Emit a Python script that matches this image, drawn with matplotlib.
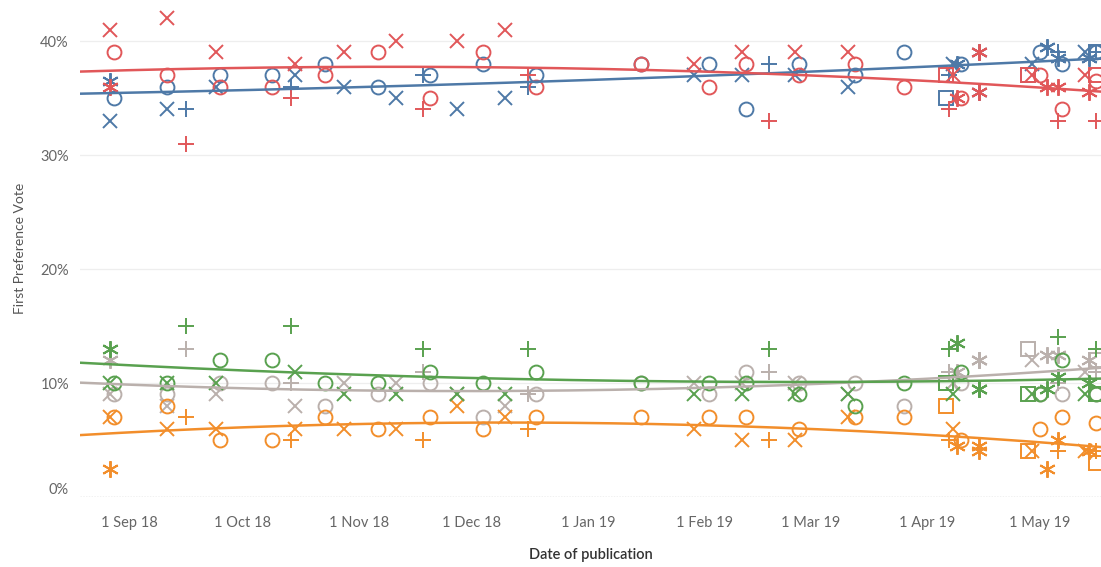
import numpy as np
import matplotlib
matplotlib.use('Agg')
import matplotlib.pyplot as plt
import matplotlib.dates as mdates

# Federal voting intention, first preference vote by poll
poll_dates = [
    '2018-08-27', '2018-08-27', '2018-08-28', '2018-09-11', '2018-09-11', '2018-09-16',
    '2018-09-24', '2018-09-25', '2018-10-09', '2018-10-14', '2018-10-15', '2018-10-23',
    '2018-10-28', '2018-11-06', '2018-11-11', '2018-11-18', '2018-11-20', '2018-11-27',
    '2018-12-04', '2018-12-10', '2018-12-16', '2018-12-18', '2019-01-15', '2019-01-29',
    '2019-02-02', '2019-02-11', '2019-02-12', '2019-02-18', '2019-02-25', '2019-02-26',
    '2019-03-11', '2019-03-13', '2019-03-26', '2019-04-06', '2019-04-07', '2019-04-08',
    '2019-04-09', '2019-04-10', '2019-04-15', '2019-04-15', '2019-04-28', '2019-04-29',
    '2019-05-01', '2019-05-03', '2019-05-06', '2019-05-06', '2019-05-07', '2019-05-13',
    '2019-05-14', '2019-05-16', '2019-05-16', '2019-05-16',
]
pollster = [
    'Newspoll', 'Roy Morgan', 'Essential', 'Newspoll', 'Essential', 'Ipsos',
    'Newspoll', 'Essential', 'Essential', 'Ipsos', 'Newspoll', 'Essential',
    'Newspoll', 'Essential', 'Newspoll', 'Ipsos', 'Essential', 'Newspoll',
    'Essential', 'Newspoll', 'Ipsos', 'Essential', 'Essential', 'Newspoll',
    'Essential', 'Newspoll', 'Essential', 'Ipsos', 'Newspoll', 'Essential',
    'Newspoll', 'Essential', 'Essential', 'YouGov Galaxy', 'Ipsos', 'Newspoll',
    'Roy Morgan', 'Essential', 'Roy Morgan', 'Roy Morgan', 'YouGov Galaxy', 'Newspoll',
    'Essential', 'Roy Morgan', 'Ipsos', 'Roy Morgan', 'Essential', 'Newspoll',
    'Roy Morgan', 'Essential', 'Ipsos', 'YouGov Galaxy',
]
coalition = [33, 36.5, 35, 34, 36, 34, 36, 37, 37, 36, 37, 38, 36, 36, 35, 37, 37, 34,
             38, 35, 36, 37, 38, 37, 38, 37, 34, 38, 37, 38, 36, 37, 39, 35, 37, 38,
             38, 38, 35.5, 39, 37, 38, 39, 39.5, 39, 38.5, 38, 39, 38.5, 39, 39, 39]
labor = [41, 36, 39, 42, 37, 31, 39, 36, 36, 35, 38, 37, 39, 39, 40, 34, 35, 40,
         39, 41, 37, 36, 38, 38, 36, 39, 38, 33, 39, 37, 39, 38, 36, 37, 34, 37,
         35, 35, 39, 35.5, 37, 37, 37, 36, 33, 36, 34, 37, 35.5, 36.5, 33, 37]
greens = [10, 13, 10, 10, 10, 15, 10, 12, 12, 15, 11, 10, 9, 10, 9, 13, 11, 9,
          10, 9, 13, 11, 10, 9, 10, 9, 10, 13, 9, 9, 9, 8, 10, 10, 13, 9,
          13.5, 11, 9.5, 9.5, 9, 9, 9, 9.5, 14, 10.5, 12, 9, 10, 9, 13, 9]
one_nation = [7, 2.5, 7, 6, 8, 7, 6, 5, 5, 5, 6, 7, 6, 6, 6, 5, 7, 8,
              6, 7, 6, 7, 7, 6, 7, 5, 7, 5, 5, 6, 7, 7, 7, 8, 5, 6,
              4.5, 5, 4.5, 4, 4, 4, 6, 2.5, 4, 5, 7, 4, 4, 6.5, 4, 3]
others = [9, 12, 9, 8, 9, 13, 9, 10, 10, 10, 8, 8, 10, 9, 10, 11, 10, 9,
          7, 8, 9, 9, 10, 10, 9, 10, 11, 11, 10, 10, 9, 10, 8, 10, 11, 10,
          11, 10, 12, 12, 13, 12, 9, 12.5, 10, 12.5, 9, 11, 12, 9, 11, 12]

tick_dates = ['2018-09-01', '2018-10-01', '2018-11-01', '2018-12-01', '2019-01-01',
              '2019-02-01', '2019-03-01', '2019-04-01', '2019-05-01']
tick_labels = ['1 Sep 18', '1 Oct 18', '1 Nov 18', '1 Dec 18', '1 Jan 19',
               '1 Feb 19', '1 Mar 19', '1 Apr 19', '1 May 19']

shapes = {'Newspoll': 'x', 'Essential': 'o', 'Ipsos': '+',
          'Roy Morgan': (6, 2, 0), 'YouGov Galaxy': 's'}
sizes = {'Newspoll': 9.5, 'Essential': 10, 'Ipsos': 11.5,
         'Roy Morgan': 12, 'YouGov Galaxy': 9.5}

# drawn bottom to top
parties = [
    ('Others', others, '#bab0ac'),
    ('One Nation', one_nation, '#f28e2b'),
    ('Greens', greens, '#59a14f'),
    ('Coalition', coalition, '#4e79a7'),
    ('Labor', labor, '#e15759'),
]

plt.rcParams['font.family'] = ['Lato', 'DejaVu Sans']

x = mdates.datestr2num(poll_dates)
x0, x1 = mdates.datestr2num(['2018-08-18', '2019-05-17'])
x0 += 0.9
x1 += 0.3

fig = plt.figure(figsize=(11.01, 5.67), dpi=100)
ax = fig.add_axes([80 / 1101, 70 / 567, 1021 / 1101, 497 / 567])

xs = np.linspace(x0, x1, 300)
for name, vals, col in parties:
    vals = np.array(vals, dtype=float)
    for p, m in shapes.items():
        idx = [i for i, q in enumerate(pollster) if q == p]
        ax.plot(x[idx], vals[idx], linestyle='none', marker=m, markersize=sizes[p],
                markerfacecolor='none', markeredgecolor=col, markeredgewidth=1.4,
                zorder=3)
    # quadratic trend line through the polls
    coef = np.polyfit(x - x[0], vals, 2)
    ax.plot(xs, np.polyval(coef, xs - x[0]), color=col, lw=1.8, zorder=4)

ax.set_xlim(x0, x1)
ax.set_ylim(0, 43.6)

ax.set_yticks([0, 10, 20, 30, 40])
ax.set_yticklabels(['0%', '10%', '20%', '30%', '40%'])
ax.set_xticks(mdates.datestr2num(tick_dates))
ax.set_xticklabels(tick_labels)
ax.tick_params(axis='both', length=0, labelsize=10.5, labelcolor='#666666')
ax.tick_params(axis='x', pad=14)
ax.tick_params(axis='y', pad=8)
ax.get_yticklabels()[0].set_va('bottom')

for y in [10, 20, 30, 40]:
    ax.axhline(y, color='#eeeeee', lw=0.9, zorder=0)
ax.axhline(0, color='#bbbbbb', lw=1.0, linestyle=(0, (1, 1)), zorder=1)
for s in ax.spines.values():
    s.set_visible(False)

ax.set_xlabel('Date of publication', fontsize=10.5, color='#333333',
              fontweight='semibold', labelpad=13)
ax.set_ylabel('First Preference Vote', fontsize=10, color='#555555')
ax.yaxis.set_label_coords(-0.053, 0.5)

plt.savefig('out.png', dpi=100)
